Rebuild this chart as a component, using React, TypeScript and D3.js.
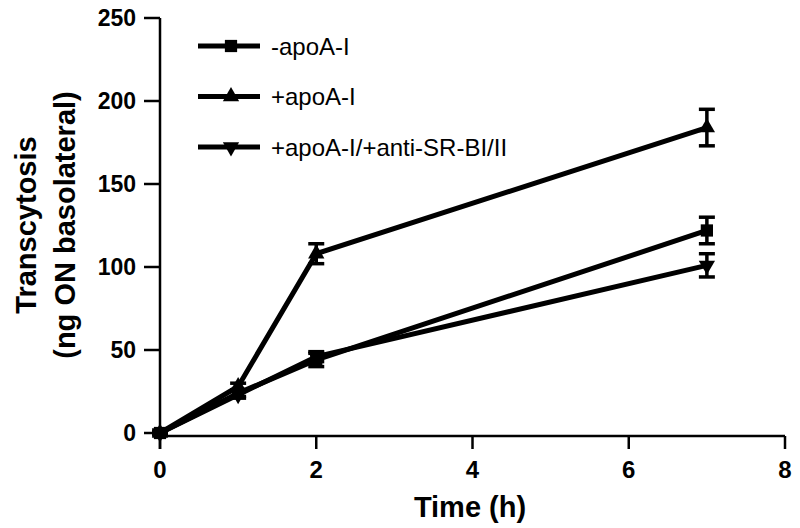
import React from 'react';
import * as d3 from 'd3';

const times = [0, 1, 2, 7];
const minusApo = [0, 24, 44, 122];
const minusApoErr = [1, 2, 4, 8];
const plusApo = [0, 28, 108, 184];
const plusApoErr = [1, 2, 6, 11];
const antiSR = [0, 23, 46, 101];
const antiSRErr = [1, 2, 3, 7];
const xTicks = [0, 2, 4, 6, 8];
const yTicks = [0, 50, 100, 150, 200, 250];
const legendLabels = ['-apoA-I', '+apoA-I', '+apoA-I/+anti-SR-BI/II'];

const FONT = '"Liberation Sans", Arial, Helvetica, sans-serif';

const series = [
  { name: legendLabels[0], values: minusApo, err: minusApoErr, shape: 'square' },
  { name: legendLabels[1], values: plusApo, err: plusApoErr, shape: 'up' },
  { name: legendLabels[2], values: antiSR, err: antiSRErr, shape: 'down' },
];

function marker(shape: string) {
  if (shape === 'square') return d3.symbol(d3.symbolSquare, 150)();
  return d3.symbol(d3.symbolTriangle, 115)();
}

export default function App() {
  const width = 800;
  const height = 528;
  const x = d3.scaleLinear().domain([0, 8]).range([160, 785]);
  const y = d3.scaleLinear().domain([0, 250]).range([433, 18]);
  const xAxisY = 436;

  const line = d3
    .line<number>()
    .x((_, i) => x(times[i]))
    .y((d) => y(d));

  return (
    <svg width={width} height={height} style={{ position: 'absolute', left: 0, top: 0, background: '#fff' }}>
      {/* y axis */}
      <line x1={160} x2={160} y1={y(250)} y2={xAxisY + 13} stroke="#000" strokeWidth={2.5} />
      {yTicks.map((t) => (
        <g key={t}>
          <line x1={144} x2={160} y1={y(t)} y2={y(t)} stroke="#000" strokeWidth={2.5} />
          <text x={136} y={y(t)} dy="0.36em" textAnchor="end" fontFamily={FONT} fontWeight="bold" fontSize={23}>
            {t}
          </text>
        </g>
      ))}
      {/* x axis */}
      <line x1={160} x2={x(8)} y1={xAxisY} y2={xAxisY} stroke="#000" strokeWidth={2.5} />
      {xTicks.map((t) => (
        <g key={t}>
          <line x1={x(t)} x2={x(t)} y1={xAxisY} y2={xAxisY + 13} stroke="#000" strokeWidth={2.5} />
          <text x={x(t)} y={478} textAnchor="middle" fontFamily={FONT} fontWeight="bold" fontSize={24}>
            {t}
          </text>
        </g>
      ))}
      <text x={470} y={517} textAnchor="middle" fontFamily={FONT} fontWeight="bold" fontSize={29}>
        Time (h)
      </text>
      <g transform="translate(26,225) rotate(-90)">
        <text x={0} y={0} dy="0.36em" textAnchor="middle" fontFamily={FONT} fontWeight="bold" fontSize={29}>
          Transcytosis
        </text>
        <text x={0} y={39} dy="0.36em" textAnchor="middle" fontFamily={FONT} fontWeight="bold" fontSize={29}>
          (ng ON basolateral)
        </text>
      </g>

      {/* series */}
      {series.map((s) => (
        <g key={s.name}>
          <path d={line(s.values) || ''} fill="none" stroke="#000" strokeWidth={5} strokeLinejoin="round" />
          {s.values.map((v, i) => (
            <g key={i}>
              <line x1={x(times[i])} x2={x(times[i])} y1={y(v + s.err[i])} y2={y(v - s.err[i])} stroke="#000" strokeWidth={3.5} />
              <line x1={x(times[i]) - 8} x2={x(times[i]) + 8} y1={y(v + s.err[i])} y2={y(v + s.err[i])} stroke="#000" strokeWidth={3.5} />
              <line x1={x(times[i]) - 8} x2={x(times[i]) + 8} y1={y(v - s.err[i])} y2={y(v - s.err[i])} stroke="#000" strokeWidth={3.5} />
              <path
                d={marker(s.shape) || ''}
                transform={`translate(${x(times[i])},${y(v)})${s.shape === 'down' ? ' rotate(180)' : ''}`}
                fill="#000"
              />
            </g>
          ))}
        </g>
      ))}

      {/* legend */}
      {series.map((s, i) => {
        const ly = 46 + i * 50.5;
        return (
          <g key={s.name}>
            <line x1={198} x2={260} y1={ly} y2={ly} stroke="#000" strokeWidth={5} />
            <path
              d={marker(s.shape) || ''}
              transform={`translate(231,${ly})${s.shape === 'down' ? ' rotate(180)' : ''}`}
              fill="#000"
            />
            <text x={271} y={ly} dy="0.36em" fontFamily={FONT} fontSize={24}>
              {s.name}
            </text>
          </g>
        );
      })}
    </svg>
  );
}
